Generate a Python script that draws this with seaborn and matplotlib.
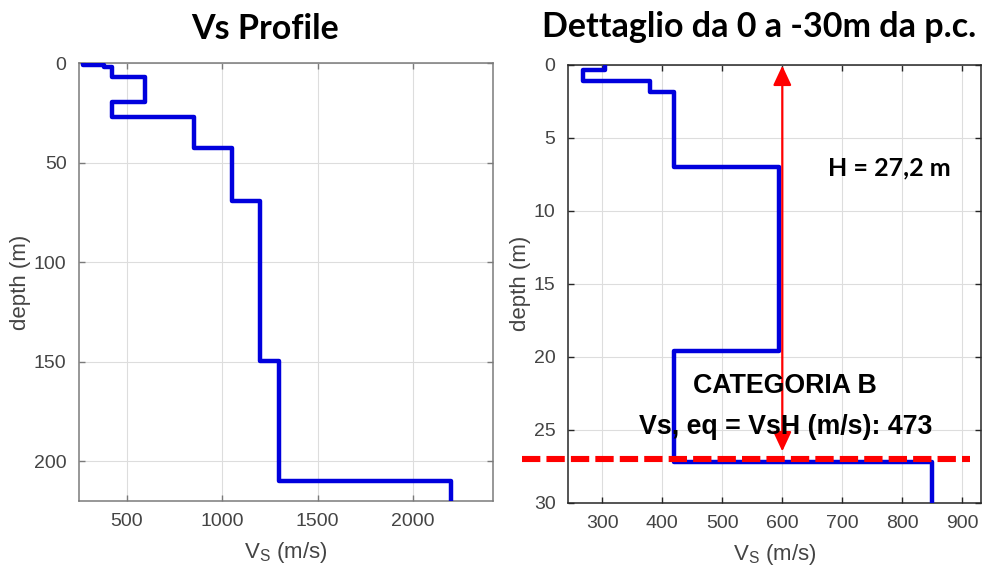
import matplotlib
matplotlib.use("Agg")
import matplotlib.pyplot as plt
import seaborn as sns
import pandas as pd

# Shear-wave velocity layers: top depth of each layer (m) and its Vs (m/s)
layer_top = [0.0, 0.35, 1.15, 1.9, 7.0, 19.6, 27.2, 42.5, 69.5, 149.5, 210.0]
layer_vs = [305, 268, 380, 420, 595, 420, 850, 1050, 1200, 1300, 2200]
max_depth = 220.0

# Equivalent-velocity results for the upper 30 m
h_depth = 27.0          # depth of the bedrock line (m)
h_label = "H = 27,2 m"
vs_eq = 473
category = "CATEGORIA B"

left_xticks = [500, 1000, 1500, 2000]
left_yticks = [0, 50, 100, 150, 200]
right_xticks = [300, 400, 500, 600, 700, 800, 900]
right_yticks = [0, 5, 10, 15, 20, 25, 30]

# Build the staircase profile from the layer table
bottoms = layer_top[1:] + [max_depth]
vs_steps, depth_steps = [], []
for top, bot, vs in zip(layer_top, bottoms, layer_vs):
    vs_steps += [vs, vs]
    depth_steps += [top, bot]
profile = pd.DataFrame({"vs": vs_steps, "depth": depth_steps})

sns.set_theme(style="white")
plt.rcParams["font.family"] = ["Liberation Sans", "DejaVu Sans"]
plt.rcParams["mathtext.fontset"] = "custom"
plt.rcParams["mathtext.rm"] = "Liberation Sans"
plt.rcParams["mathtext.it"] = "Liberation Sans:italic"

W, H = 987, 569
fig = plt.figure(figsize=(W / 100, H / 100), dpi=100)
fig.patch.set_facecolor("white")


def px_axes(x0, y0, x1, y1):
    return fig.add_axes([x0 / W, 1 - y1 / H, (x1 - x0) / W, (y1 - y0) / H])


ax1 = px_axes(79, 63, 493, 501)
ax2 = px_axes(568, 64.5, 981, 502.5)

label_color = "#444444"
blue = "#0000dd"

for ax, spine_col, xt, yt in [
    (ax1, "#7a7a7a", left_xticks, left_yticks),
    (ax2, "#262626", right_xticks, right_yticks),
]:
    sns.lineplot(data=profile, x="vs", y="depth", sort=False, estimator=None,
                 color=blue, lw=3.2, ax=ax, zorder=3)
    ax.set_xticks(xt)
    ax.set_yticks(yt)
    ax.grid(True, color="#dddddd", lw=0.8)
    ax.set_axisbelow(True)
    for s in ax.spines.values():
        s.set_color(spine_col)
        s.set_linewidth(1.1)
        s.set_visible(True)
    ax.tick_params(direction="in", length=4, width=1, color=spine_col,
                   top=True, right=True, bottom=True, left=True,
                   labelsize=14, labelcolor=label_color, pad=9)
    ax.set_xlabel(r"$\mathrm{V_S}$ (m/s)", fontsize=16, color=label_color, labelpad=7)
    ax.set_ylabel("depth (m)", fontsize=16, color=label_color, labelpad=2)

ax1.set_xlim(249, 2420)
ax1.set_ylim(max_depth, 0)
ax2.set_xlim(243, 931)
ax2.set_ylim(30, 0)

# Bedrock line and thickness arrow
ax2.plot([166, 913], [h_depth, h_depth], color="#ff0000", lw=4.4,
         dashes=(3.0, 1.0), clip_on=False, zorder=5)
ax2.annotate("", xy=(600, 0.08), xytext=(600, 26.5),
             arrowprops=dict(arrowstyle="<|-|>,head_length=0.6,head_width=0.28",
                             color="#ff0000", lw=1.6, shrinkA=0, shrinkB=0,
                             mutation_scale=20), zorder=6)

ax2.text(779, 7.58, h_label, fontsize=18, fontweight="bold", family="Lato",
         ha="center", va="baseline", color="black", zorder=7)
ax2.text(605, 22.5, category, fontsize=19.3, fontweight="bold",
         ha="center", va="baseline", color="black", zorder=7)
ax2.text(605, 25.3, f"Vs, eq = VsH (m/s): {vs_eq}", fontsize=19.3,
         fontweight="bold", ha="center", va="baseline", color="black", zorder=7)

fig.text(265 / W, 1 - 39 / H, "Vs Profile", fontsize=24.5, fontweight="bold",
         family="Lato", ha="center", va="baseline", color="black")
fig.text(759 / W, 1 - 37 / H, "Dettaglio da 0 a -30m da p.c.", fontsize=24.5,
         fontweight="bold", family="Lato", ha="center", va="baseline", color="black")

fig.savefig("out.png", dpi=100, facecolor="white")
